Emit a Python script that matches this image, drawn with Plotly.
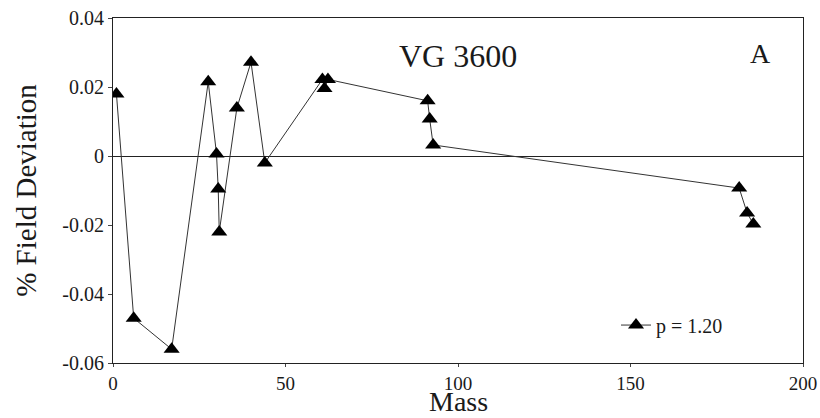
import plotly.graph_objects as go

mass = [1, 6, 17, 27.6, 30.0, 30.5, 30.8, 35.9, 40.0, 44.0, 60.7, 61.3, 62.3, 91.2, 91.8, 92.8, 181.5, 183.8, 185.6]
deviation = [0.018, -0.047, -0.056, 0.0215, 0.0006, -0.0096, -0.022, 0.0139, 0.0272, -0.002,
             0.0222, 0.0196, 0.0222, 0.016, 0.0107, 0.0032, -0.0093, -0.0165, -0.0197]
series_name = "p = 1.20"
x_ticks = [0, 50, 100, 150, 200]
y_ticks = [-0.06, -0.04, -0.02, 0, 0.02, 0.04]
y_tick_text = ["-0.06", "-0.04", "-0.02", "0", "0.02", "0.04"]

FONT = "Liberation Serif, Times New Roman, serif"

fig = go.Figure()
fig.add_trace(go.Scatter(
    x=mass, y=deviation, mode="lines+markers", name=series_name,
    line=dict(color="#333333", width=1),
    marker=dict(symbol="triangle-up", size=14, color="black"),
))

fig.update_layout(
    width=820, height=418,
    margin=dict(l=113, r=17, t=18, b=55),
    paper_bgcolor="white", plot_bgcolor="white",
    font=dict(family=FONT, color="#1a1a1a"),
    showlegend=True,
    legend=dict(x=0.729, y=0.11, xanchor="left", yanchor="middle",
                bgcolor="rgba(0,0,0,0)", font=dict(size=20, family=FONT, color="#1a1a1a"),
                itemwidth=30),
    xaxis=dict(range=[0, 200], tickvals=x_ticks, ticks="outside", ticklen=3,
               tickfont=dict(size=19), showline=True, linecolor="#222222", linewidth=1,
               mirror=True, showgrid=False, zeroline=False, automargin=False),
    yaxis=dict(range=[-0.06, 0.04], tickvals=y_ticks, ticktext=y_tick_text, ticks="outside",
               ticklen=4, tickfont=dict(size=20), showline=True, linecolor="#222222",
               linewidth=1, mirror=True, showgrid=False, zeroline=True,
               zerolinecolor="#222222", zerolinewidth=1,
               title=dict(text="% Field Deviation", font=dict(size=29), standoff=17),
               automargin=False),
    annotations=[
        dict(text="VG 3600", x=0.4993, y=0.89, xref="paper", yref="paper",
             xanchor="center", yanchor="middle",
             showarrow=False, font=dict(size=32, family=FONT, color="#1a1a1a")),
        dict(text="A", x=0.938, y=0.896, xref="paper", yref="paper",
             xanchor="center", yanchor="middle",
             showarrow=False, font=dict(size=28, family=FONT, color="#1a1a1a")),
        dict(text="Mass", x=0.5, y=-0.1594, xref="paper", yref="paper",
             xanchor="center", yanchor="bottom", borderpad=0,
             showarrow=False, font=dict(size=28, family=FONT, color="#1a1a1a")),
    ],
)

fig.write_html("out.html", config={"displayModeBar": False},
               post_script="document.body.style.margin='0';document.body.style.overflow='hidden';")
